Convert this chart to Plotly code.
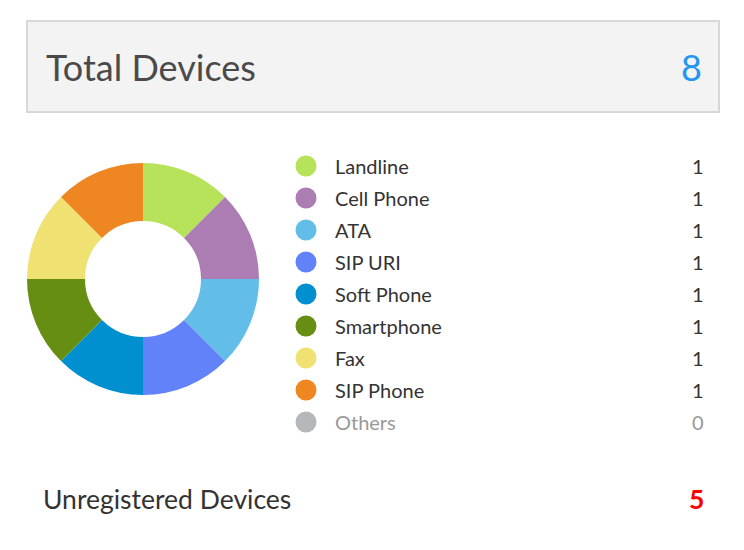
import plotly.graph_objects as go

W, H = 744, 550
OFF = 8  # page body margin
FW, FH = W - 2 * OFF, H - 2 * OFF

categories = ["Landline", "Cell Phone", "ATA", "SIP URI", "Soft Phone",
              "Smartphone", "Fax", "SIP Phone", "Others"]
counts = [1, 1, 1, 1, 1, 1, 1, 1, 0]
colors = ["#B6E359", "#AB7DB3", "#62BEE8", "#6182F8", "#0090D0",
          "#668E13", "#F0E272", "#EE8722", "#B4B8BA"]
total_devices = 8
unregistered_devices = 5

FONT = "Lato"

def px_x(p):
    return (p - OFF) / FW

def px_y(p):
    return 1 - (p - OFF) / FH

fig = go.Figure()

# donut
fig.add_trace(go.Pie(
    labels=categories, values=counts,
    marker=dict(colors=colors, line=dict(width=0)),
    hole=0.5, sort=False, direction="clockwise", rotation=0,
    textinfo="none", hoverinfo="label+value", showlegend=False,
    domain=dict(x=[px_x(27), px_x(259)], y=[px_y(395), px_y(163)]),
))

# legend markers
fig.add_trace(go.Scatter(
    x=[0] * len(categories), y=categories, mode="markers",
    marker=dict(size=21, color=colors, line=dict(width=0)),
    hoverinfo="skip", showlegend=False, xaxis="x", yaxis="y", cliponaxis=False,
))

x0, x1 = 306, 706
fig.update_layout(
    width=FW, height=FH,
    margin=dict(l=0, r=0, t=0, b=0),
    paper_bgcolor="white", plot_bgcolor="rgba(0,0,0,0)",
    xaxis=dict(domain=[px_x(x0), px_x(x1)], range=[0, 1], visible=False, fixedrange=True),
    yaxis=dict(domain=[px_y(438), px_y(150)], range=[len(categories) - 0.5, -0.5],
               type="category", categoryorder="array", categoryarray=categories,
               visible=False, fixedrange=True),
    font=dict(family=FONT),
)

label_x = (333 - x0) / (x1 - x0)
annotations = []
for cat, val in zip(categories, counts):
    col = "#333333" if val > 0 else "#999999"
    annotations.append(dict(x=label_x, y=cat, xref="x", yref="y", text=cat,
                            showarrow=False, xanchor="left", yanchor="middle",
                            font=dict(size=20, color=col, family=FONT)))
    annotations.append(dict(x=1, y=cat, xref="x", yref="y", text=str(val),
                            showarrow=False, xanchor="right", yanchor="middle",
                            font=dict(size=20, color=col, family=FONT)))

# header
annotations.append(dict(x=px_x(44), y=px_y(67), xref="paper", yref="paper",
                        text="Total Devices", showarrow=False, xanchor="left",
                        yanchor="middle", font=dict(size=36, color="#4A4A4A", family=FONT)))
annotations.append(dict(x=px_x(704), y=px_y(67), xref="paper", yref="paper",
                        text=str(total_devices), showarrow=False, xanchor="right",
                        yanchor="middle", font=dict(size=36, color="#2196F3", family=FONT)))
# footer
annotations.append(dict(x=px_x(41), y=px_y(499), xref="paper", yref="paper",
                        text="Unregistered Devices", showarrow=False, xanchor="left",
                        yanchor="middle", font=dict(size=26.5, color="#333333", family=FONT)))
annotations.append(dict(x=px_x(706), y=px_y(499), xref="paper", yref="paper",
                        text="<b>%d</b>" % unregistered_devices, showarrow=False, xanchor="right",
                        yanchor="middle", font=dict(size=26.5, color="#FF0000", family=FONT)))

fig.update_layout(annotations=annotations)

fig.update_layout(shapes=[
    dict(type="rect", xref="paper", yref="paper",
         x0=px_x(27), x1=px_x(719), y0=px_y(112), y1=px_y(21),
         fillcolor="#F3F3F3", line=dict(color="#D8D8D8", width=2), layer="below"),
])

fig.write_html("out.html", config=dict(displayModeBar=False))
